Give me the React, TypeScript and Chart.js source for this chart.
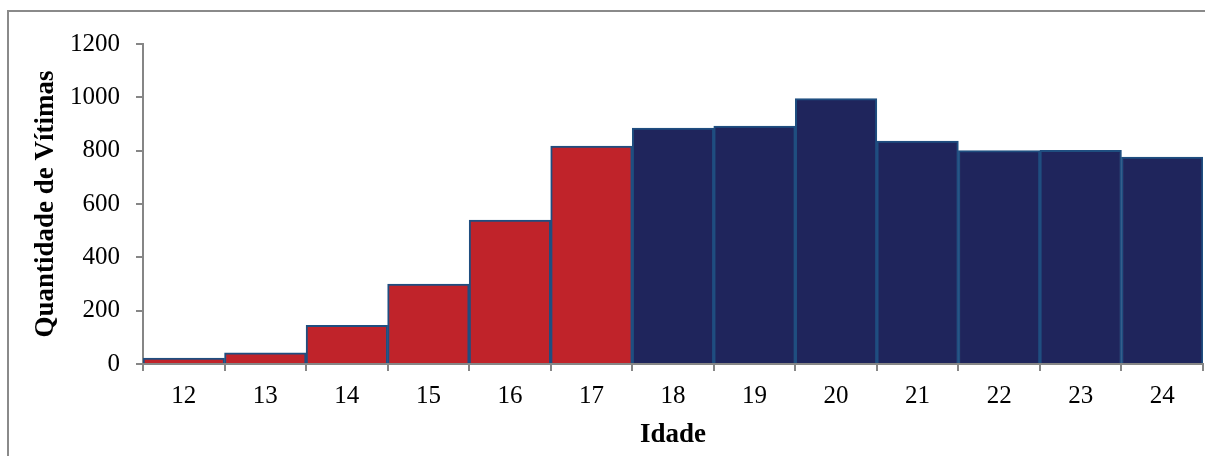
import React, { useEffect, useRef } from "react";
import { Chart, registerables } from "chart.js";

Chart.register(...registerables);

const ages = ["12", "13", "14", "15", "16", "17", "18", "19", "20", "21", "22", "23", "24"];
const victims = [22, 42, 145, 300, 540, 817, 885, 892, 995, 836, 800, 801, 776];
const barColors = ["#C0232A", "#C0232A", "#C0232A", "#C0232A", "#C0232A", "#C0232A",
  "#1F255C", "#1F255C", "#1F255C", "#1F255C", "#1F255C", "#1F255C", "#1F255C"];
const yTitle = "Quantidade de Vítimas";
const xTitle = "Idade";

export default function App() {
  const ref = useRef<HTMLCanvasElement | null>(null);
  useEffect(() => {
    if (!ref.current) return;
    const font = "'Liberation Serif', 'Times New Roman', serif";
    const chart = new Chart(ref.current, {
      type: "bar",
      data: {
        labels: ages,
        datasets: [{
          data: victims,
          backgroundColor: barColors,
          borderColor: "#1F4E80",
          borderWidth: 2,
          categoryPercentage: 1,
          barPercentage: 1,
        }],
      },
      options: {
        animation: false,
        responsive: false,
        maintainAspectRatio: false,
        layout: { padding: { top: 44, right: 2, left: 0, bottom: 0 } },
        plugins: { legend: { display: false }, tooltip: { enabled: false } },
        scales: {
          x: {
            offset: true,
            grid: { display: true, drawOnChartArea: false, offset: true, tickLength: 7, color: "#868686", lineWidth: 2 },
            border: { display: true, color: "#868686", width: 2 },
            ticks: { color: "#000", font: { family: font, size: 25 }, padding: 10 },
            title: { display: true, text: xTitle, color: "#000", font: { family: font, size: 27, weight: "bold" }, padding: { top: 0, bottom: 5 } },
            afterFit: (s: any) => { s.height = 92; },
          },
          y: {
            min: 0,
            max: 1200,
            ticks: { stepSize: 200, color: "#000", font: { family: font, size: 25 }, padding: 16, callback: (v: any) => String(v) },
            grid: { display: true, drawOnChartArea: false, tickLength: 7, color: "#868686", lineWidth: 2 },
            border: { display: true, color: "#868686", width: 2 },
            title: { display: true, text: yTitle, color: "#000", font: { family: font, size: 27, weight: "bold" }, padding: { top: 30, bottom: 0 } },
            afterFit: (s: any) => { s.width = 143; },
          },
        },
      },
    });
    return () => chart.destroy();
  }, []);
  return (
    <div style={{ position: "fixed", left: 0, top: 0, width: 1205, height: 456, background: "#fff" }}>
      <div style={{ position: "absolute", left: 7, top: 10, right: -10, bottom: -10, borderLeft: "2px solid #8a8a8a", borderTop: "2px solid #8a8a8a" }} />
      <canvas ref={ref} width={1205} height={456} style={{ position: "absolute", left: 0, top: 0 }} />
    </div>
  );
}
